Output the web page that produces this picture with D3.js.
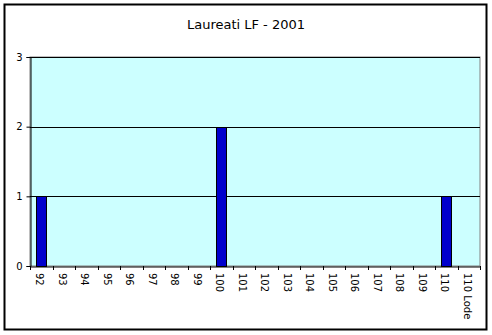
<!DOCTYPE html>
<html><head><meta charset="utf-8">
<script src="https://cdn.jsdelivr.net/npm/d3@7"></script>
<style>body{margin:0;background:#fff}svg{display:block}</style>
</head><body>
<script>
const categories = ["92","93","94","95","96","97","98","99","100","101","102","103","104","105","106","107","108","109","110","110 Lode"];
const values = [1,0,0,0,0,0,0,0,2,0,0,0,0,0,0,0,0,0,1,0];
const yTicks = [0,1,2,3];
const title = "Laureati LF - 2001";

const W = 492, H = 335;
const svg = d3.select("body").append("svg").attr("width", W).attr("height", H);
svg.append("rect").attr("x",0).attr("y",0).attr("width",W).attr("height",H).attr("fill","#fff");
svg.append("rect").attr("x",4.5).attr("y",4.5).attr("width",482).attr("height",325)
  .attr("fill","none").attr("stroke","#000").attr("stroke-width",2);

const m = {l:30, r:480, t:57, b:266};
const x = d3.scaleBand().domain(categories).range([m.l, m.r]);
const y = d3.scaleLinear().domain([0,3]).range([m.b, m.t]);

svg.append("rect").attr("x",m.l).attr("y",m.t).attr("width",m.r-m.l).attr("height",m.b-m.t)
  .attr("fill","#ccffff").attr("stroke","#808080").attr("stroke-width",1);

svg.append("g").selectAll("line").data(yTicks.filter(d=>d>0)).join("line")
  .attr("x1",m.l).attr("x2",m.r).attr("y1",d=>Math.round(y(d))+0.5).attr("y2",d=>Math.round(y(d))+0.5)
  .attr("stroke","#000").attr("stroke-width",1);

const bw = 10;
svg.append("g").selectAll("rect").data(categories.map((c,i)=>({c,v:values[i]})).filter(d=>d.v>0)).join("rect")
  .attr("x",d=>Math.round(x(d.c)+x.bandwidth()/2-bw/2)+0.5)
  .attr("y",d=>Math.round(y(d.v))+0.5)
  .attr("width",bw).attr("height",d=>Math.round(y(0))-Math.round(y(d.v)))
  .attr("fill","#0000cc").attr("stroke","#000").attr("stroke-width",1);

const yAxis = svg.append("g").attr("transform",`translate(${m.l+0.5},0)`)
  .call(d3.axisLeft(y).tickValues(yTicks).tickSize(4).tickPadding(4).tickFormat(d3.format("d")));
yAxis.select(".domain").attr("stroke","#000");
yAxis.selectAll("text").attr("font-family","Verdana, 'DejaVu Sans', sans-serif").attr("font-size",10).attr("fill","#000");

const xAxis = svg.append("g").attr("transform",`translate(0,${m.b+0.5})`)
  .call(d3.axisBottom(x).tickSize(0).tickFormat(""));
xAxis.select(".domain").attr("stroke","#000");
svg.append("g").selectAll("line").data(d3.range(categories.length+1)).join("line")
  .attr("x1",i=>Math.round(m.l+i*x.step())+0.5).attr("x2",i=>Math.round(m.l+i*x.step())+0.5)
  .attr("y1",m.b).attr("y2",m.b+4).attr("stroke","#000");

svg.append("g").selectAll("text").data(categories).join("text")
  .attr("transform",d=>`translate(${x(d)+x.bandwidth()/2-2},${m.b+7}) rotate(90)`)
  .attr("font-family","Verdana, 'DejaVu Sans', sans-serif").attr("font-size",10)
  .attr("text-anchor","start").attr("dominant-baseline","middle").text(d=>d);

svg.append("text").attr("x",246).attr("y",29).attr("text-anchor","middle")
  .attr("font-family","Verdana, 'DejaVu Sans', sans-serif").attr("font-size",13).text(title);
</script>
</body></html>
